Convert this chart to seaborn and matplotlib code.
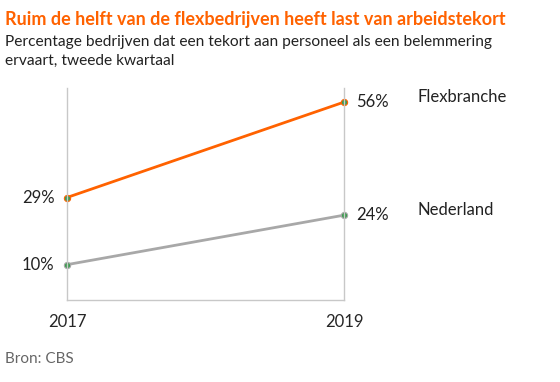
import pandas as pd
import matplotlib.pyplot as plt
import seaborn as sns

# === Data ===
years = [2017, 2019]
flex = [29, 56]
nederland = [10, 24]
series_names = ['Flexbranche', 'Nederland']

df = pd.DataFrame({
    'Jaar': years * 2,
    'Waarde': flex + nederland,
    'Reeks': [series_names[0]] * 2 + [series_names[1]] * 2,
})

sns.set_style('white')
plt.rcParams['font.family'] = ['Lato', 'DejaVu Sans']

orange = '#ff6200'
grey = '#a8a8a8'
green = '#3d9a50'

fig = plt.figure(figsize=(5.6, 3.82), dpi=100)
ax = fig.add_axes([0.1196, 0.2147, 0.4946, 0.555])

sns.lineplot(data=df, x='Jaar', y='Waarde', hue='Reeks',
             palette={'Flexbranche': orange, 'Nederland': grey},
             linewidth=2, marker='o', markersize=4.5,
             markerfacecolor=green, markeredgewidth=0.8,
             legend=False, ax=ax)
# edge colours per series
for line, col in zip(ax.get_lines(), [orange, grey]):
    line.set_markeredgecolor(col)
    line.set_clip_on(False)

ax.set_xlim(2017, 2019)
ax.set_ylim(0, 60)
ax.set_xticks(years)
ax.set_xticklabels([str(y) for y in years], fontsize=12)
ax.set_yticks([])
ax.tick_params(axis='x', length=0, pad=10)
ax.set_xlabel('')
ax.set_ylabel('')

for side in ['left', 'right', 'bottom']:
    ax.spines[side].set_visible(True)
    ax.spines[side].set_color('#c8c8c8')
    ax.spines[side].set_linewidth(1)
ax.spines['top'].set_visible(False)

# value labels
for vals, name in [(flex, series_names[0]), (nederland, series_names[1])]:
    ax.text(2017 - 0.09, vals[0], f'{vals[0]}%', ha='right', va='center', fontsize=12, color='#222222')
    ax.text(2019 + 0.09, vals[1], f'{vals[1]}%', ha='left', va='center', fontsize=12, color='#222222')
ax.text(2019 + 0.53, 57.5, series_names[0], ha='left', va='center', fontsize=12, color='#222222')
ax.text(2019 + 0.53, 25.5, series_names[1], ha='left', va='center', fontsize=12, color='#222222')

fig.text(0.009, 0.935, 'Ruim de helft van de flexbedrijven heeft last van arbeidstekort',
         fontsize=13, fontweight='bold', color=orange, ha='left', va='baseline')
fig.text(0.009, 0.88, 'Percentage bedrijven dat een tekort aan personeel als een belemmering',
         fontsize=11.2, color='#222222', ha='left', va='baseline')
fig.text(0.009, 0.83, 'ervaart, tweede kwartaal',
         fontsize=11.2, color='#222222', ha='left', va='baseline')
fig.text(0.009, 0.05, 'Bron: CBS', fontsize=11, color='#666666', ha='left', va='baseline')

fig.savefig('out.png', dpi=100)
